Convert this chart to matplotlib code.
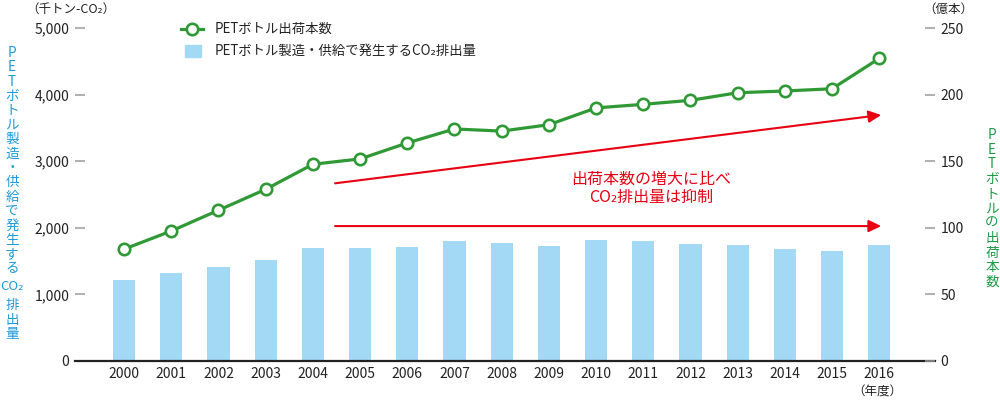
import matplotlib
matplotlib.use("Agg")
import matplotlib.pyplot as plt
from matplotlib.lines import Line2D
from matplotlib.patches import Rectangle

plt.rcParams['font.family'] = ['Noto Sans CJK JP', 'DejaVu Sans']

# ---- data ----
years = [2000, 2001, 2002, 2003, 2004, 2005, 2006, 2007, 2008, 2009,
         2010, 2011, 2012, 2013, 2014, 2015, 2016]
co2_emissions = [1215, 1315, 1405, 1510, 1690, 1697, 1717, 1807, 1767, 1727,
                 1820, 1805, 1762, 1737, 1677, 1647, 1748]   # 千トン-CO2
shipments = [84, 97.6, 113.2, 128.9, 147.7, 151.7, 163.7, 174.2, 172.6, 177.4,
             190, 192.7, 195.7, 201.4, 202.7, 204.4, 227.2]  # 億本
left_ticks = [0, 1000, 2000, 3000, 4000, 5000]
left_ticklabels = ['0', '1,000', '2,000', '3,000', '4,000', '5,000']
right_ticks = [0, 50, 100, 150, 200, 250]
right_ticklabels = ['0', '50', '100', '150', '200', '250']

legend_line = 'PETボトル出荷本数'
legend_bar = 'PETボトル製造・供給で発生するCO₂排出量'
left_label_tokens = ['P', 'E', 'T', 'ボ', 'ト', 'ル', '製', '造', '・', '供', '給',
                     'で', '発', '生', 'す', 'る', 'CO₂', '排', '出', '量']
right_label_tokens = ['P', 'E', 'T', 'ボ', 'ト', 'ル', 'の', '出', '荷', '本', '数']
note_text = '出荷本数の増大に比べ\nCO₂排出量は抑制'
upper_arrow = [(2004.47, 133.4), (2016.04, 184.7)]
lower_arrow = [(2004.47, 101.3), (2016.04, 101.3)]
note_pos = (2011.17, 129.5)

# ---- style ----
BLUE_BAR = '#a3d9f5'
GREEN = '#2f9a35'
RED = '#e60012'
BLUE_TXT = '#1f9ad8'
GREEN_TXT = '#1c9a45'
TXT = '#222222'
W, H = 1000, 401

fig = plt.figure(figsize=(W / 100, H / 100), dpi=100)
ax = fig.add_axes([75 / W, 40 / H, 860 / W, 333 / H])
ax2 = ax.twinx()
ax2.set_position([75 / W, 40 / H, 860 / W, 333 / H])

ax.bar(years, co2_emissions, width=0.47, color=BLUE_BAR, zorder=1)
ax2.plot(years, shipments, color=GREEN, lw=2.3, marker='o', ms=8.2,
         mfc='white', mec=GREEN, mew=1.9, zorder=3, clip_on=False)

ax.set_xlim(1998.96, 2017.18)
ax.set_ylim(0, 5000)
ax2.set_ylim(0, 250)

for a in (ax, ax2):
    for s in ('top', 'left', 'right'):
        a.spines[s].set_visible(False)
ax2.spines['bottom'].set_visible(False)
ax.spines['bottom'].set_color(TXT)
ax.spines['bottom'].set_linewidth(1.6)

ax.set_yticks(left_ticks)
ax.set_yticklabels(left_ticklabels)
ax2.set_yticks(right_ticks)
ax2.set_yticklabels(right_ticklabels)
for a in (ax, ax2):
    a.tick_params(axis='y', direction='in', length=7.5, width=1.1, color='#9a9a9a',
                  pad=4, labelsize=10, labelcolor=TXT)
ax.set_xticks(years)
ax.set_xticklabels([str(y) for y in years])
ax.tick_params(axis='x', length=0, pad=4, labelsize=10, labelcolor=TXT)


def fx(px):
    return px / W


def fy(py):
    return 1 - py / H


# unit labels
fig.text(fx(26), fy(9), '（千トン-CO₂）', fontsize=9, ha='left', va='center', color=TXT)
fig.text(fx(948), fy(9), '（億本）', fontsize=9, ha='center', va='center', color=TXT)
fig.text(fx(877), fy(392), '（年度）', fontsize=9, ha='center', va='center', color=TXT)


def stack(tokens, xpx, top, bottom, color, extra_tok=None, extra=0.0):
    """Place characters one below another, between two pixel rows."""
    n = len(tokens)
    n_extra = 2 if extra_tok in tokens else 0
    step = (bottom - top - n_extra * extra) / (n - 1)
    y = top
    for tok in tokens:
        if tok == extra_tok:
            y += extra
        fig.text(fx(xpx), fy(y), tok, fontsize=9.8 if tok != extra_tok else 9.5,
                 color=color, ha='center', va='center')
        if tok == extra_tok:
            y += extra
        y += step


stack(left_label_tokens, 12, 53, 334, BLUE_TXT, extra_tok='CO₂', extra=4)
stack(right_label_tokens, 992, 135, 282, GREEN_TXT)

# legend (manual)
fig.add_artist(Line2D([fx(181), fx(203)], [fy(29), fy(29)], color=GREEN, lw=2.3,
                      transform=fig.transFigure))
fig.add_artist(Line2D([fx(192)], [fy(29)], marker='o', ms=8.2, mfc='white', mec=GREEN,
                      mew=1.9, transform=fig.transFigure))
fig.add_artist(Rectangle((fx(185), fy(57)), (201 - 185) / W, (57 - 45) / H,
                         color=BLUE_BAR, transform=fig.transFigure))
fig.text(fx(215), fy(29), legend_line, fontsize=9.6, va='center', ha='left', color=TXT)
fig.text(fx(215), fy(51), legend_bar, fontsize=9.6, va='center', ha='left', color=TXT)

# arrows and note
for (x0, y0), (x1, y1) in (upper_arrow, lower_arrow):
    ax2.annotate('', xy=(x1, y1), xytext=(x0, y0),
                 arrowprops=dict(arrowstyle='-|>,head_length=0.75,head_width=0.36',
                                 color=RED, lw=1.5, shrinkA=0, shrinkB=0,
                                 mutation_scale=10),
                 annotation_clip=False)
ax2.text(note_pos[0], note_pos[1], note_text, color=RED, fontsize=11.5, ha='center',
         va='center', linespacing=1.15)

fig.savefig('out.png', dpi=100)
